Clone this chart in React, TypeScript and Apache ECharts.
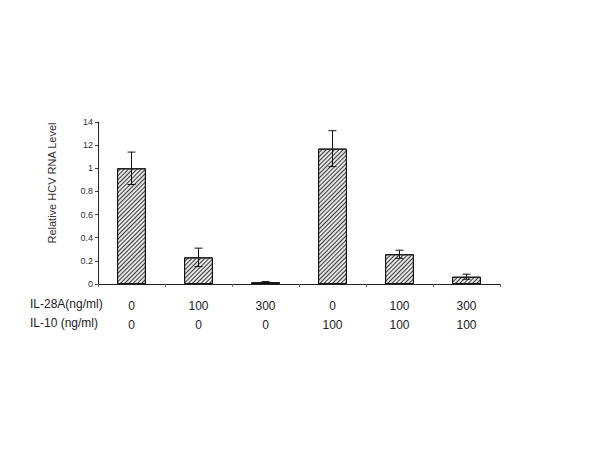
import React, { useEffect, useRef } from "react";
import * as echarts from "echarts";

const categories = ["g1", "g2", "g3", "g4", "g5", "g6"];
const il28aLabels = ["0", "100", "300", "0", "100", "300"];
const il10Labels = ["0", "0", "0", "100", "100", "100"];
const values = [1.0, 0.23, 0.015, 1.17, 0.257, 0.063];
const errors = [0.14, 0.08, 0.006, 0.155, 0.035, 0.022];
const yTickLabels = ["0", "0.2", "0.4", "0.6", "0.8", "1", "12", "14"];

const FONT = "Liberation Sans, Arial, sans-serif";

export default function App() {
  const ref = useRef<HTMLDivElement>(null);
  useEffect(() => {
    if (!ref.current) return;
    const chart = echarts.init(ref.current, undefined, { renderer: "svg" });
    chart.setOption({
      animation: false,
      backgroundColor: "#fff",
      grid: { left: 98, right: 100, top: 122, bottom: 166 },
      xAxis: {
        type: "category",
        data: categories,
        axisLine: { lineStyle: { color: "#222", width: 1 } },
        axisTick: { show: true, length: 3, lineStyle: { color: "#666" } },
        axisLabel: {
          interval: 0,
          margin: 12,
          color: "#222",
          fontFamily: FONT,
          fontSize: 12,
          lineHeight: 19,
          formatter: (_v: string, i: number) => `${il28aLabels[i]}\n${il10Labels[i]}`,
        },
      },
      yAxis: {
        type: "value",
        min: 0,
        max: 1.4,
        interval: 0.2,
        splitLine: { show: false },
        axisLine: { show: true, lineStyle: { color: "#222", width: 1 } },
        axisTick: { show: true, length: 3, lineStyle: { color: "#444" } },
        axisLabel: {
          color: "#333",
          fontFamily: FONT,
          fontSize: 9,
          margin: 5,
          formatter: (v: number) => yTickLabels[Math.round(v / 0.2)] ?? "",
        },
      },
      series: [
        {
          type: "bar",
          data: values,
          barWidth: "43%",
          itemStyle: {
            color: "#e6e6e6",
            borderColor: "#111",
            borderWidth: 1,
            decal: {
              symbol: "rect",
              symbolSize: 1,
              dashArrayX: [1, 0],
              dashArrayY: [1, 1.2],
              rotation: -Math.PI / 4,
              color: "#3a3a3a",
            },
          },
        },
        {
          type: "custom",
          data: values.map((v, i) => [i, v - errors[i], v + errors[i]]),
          renderItem: (_params: any, api: any) => {
            const x = api.value(0);
            const lo = api.coord([x, api.value(1)]);
            const hi = api.coord([x, api.value(2)]);
            const w = 4;
            const style = { stroke: "#111", lineWidth: 1 };
            return {
              type: "group",
              children: [
                { type: "line", shape: { x1: lo[0], y1: lo[1], x2: hi[0], y2: hi[1] }, style },
                { type: "line", shape: { x1: hi[0] - w, y1: hi[1], x2: hi[0] + w, y2: hi[1] }, style },
                { type: "line", shape: { x1: lo[0] - w, y1: lo[1], x2: lo[0] + w, y2: lo[1] }, style },
              ],
            };
          },
          z: 5,
        },
      ],
      graphic: [
        {
          type: "text",
          x: 52,
          y: 183,
          rotation: Math.PI / 2,
          style: {
            text: "Relative HCV RNA Level",
            fill: "#333",
            font: `11px ${FONT}`,
            align: "center",
            verticalAlign: "middle",
          },
        },
        {
          type: "text",
          left: 30,
          top: 298,
          style: { text: "IL-28A(ng/ml)", fill: "#222", font: `12px ${FONT}` },
        },
        {
          type: "text",
          left: 30,
          top: 317,
          style: { text: "IL-10 (ng/ml)", fill: "#222", font: `12px ${FONT}` },
        },
      ],
    });
    return () => chart.dispose();
  }, []);
  return (
    <div
      ref={ref}
      style={{ position: "absolute", left: 0, top: 0, width: 600, height: 450 }}
    />
  );
}
